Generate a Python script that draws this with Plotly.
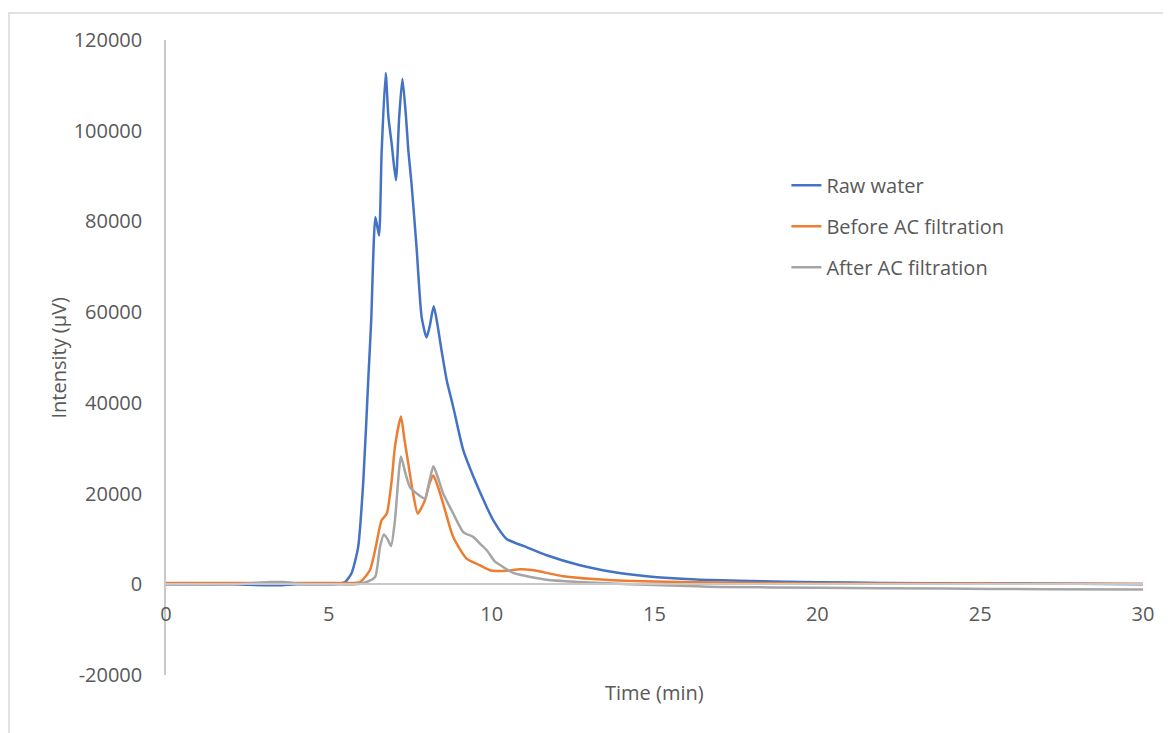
import plotly.graph_objects as go

# ---- data ----
raw_t = [0, 1, 2, 3, 3.5, 4, 5, 5.3, 5.5, 5.7, 5.9, 6.06, 6.21, 6.3, 6.43, 6.54, 6.62, 6.745,
         6.83, 6.93, 7.06, 7.16, 7.26, 7.37, 7.44, 7.54, 7.70, 7.85, 8.0, 8.1, 8.22, 8.33, 8.46,
         8.62, 8.82, 9.13, 9.44, 9.85, 10.05, 10.46, 11.07, 11.69, 12.71, 13.73, 14.76, 16.29,
         18, 20, 22, 25, 28, 30]
raw_v = [0, 0, 0, -200, -200, 0, 0, 100, 500, 2500, 8200, 22900, 45000, 58000, 81000, 76900, 95000, 112700,
         103000, 97100, 89070, 103000, 111480, 103000, 95700, 88300, 73600, 58900, 54400, 57000, 61300, 57500, 51600,
         45000, 39100, 29500, 23700, 17000, 14100, 10000, 8200, 6400, 4200, 2700, 1760, 1030,
         700, 450, 300, 200, 100, 0]

before_t = [0, 2, 4, 5, 5.6, 5.96, 6.26, 6.42, 6.62, 6.78, 6.93, 7.03, 7.215, 7.32, 7.44, 7.6, 7.73,
            7.95, 8.08, 8.21, 8.35, 8.51, 8.82, 9.23, 9.64, 9.95, 10.15, 10.46, 10.87, 11.28, 12.2,
            13.73, 16.29, 20, 25, 30]
before_v = [300, 300, 300, 300, 300, 500, 3100, 7500, 14100, 15600, 22900, 30300, 37000, 32000, 26600, 19500, 15600,
            18500, 22000, 24000, 21500, 17800, 10400, 5650, 4190, 3090, 2940, 3000, 3300, 3090, 1760,
            880, 440, 200, 150, 100]

after_t = [0, 2, 2.8, 3.2, 3.6, 4.0, 4.5, 5, 5.8, 6.16, 6.42, 6.57, 6.69, 6.8, 6.91, 7.03, 7.215,
           7.35, 7.49, 7.70, 7.95, 8.08, 8.21, 8.35, 8.51, 8.82, 9.13, 9.44, 9.64, 9.85, 10.1, 10.25,
           10.66, 11.69, 12.71, 14.25, 16.29, 17, 20, 23.8, 27, 30]
after_v = [0, 0, 300, 500, 500, 200, 0, 0, 0, 500, 1600, 8200, 11000, 10000, 8450, 14100, 28200,
           24500, 21450, 20000, 18900, 22500, 26000, 23500, 20000, 15600, 11500, 10400, 8970, 7500, 5000, 4300,
           2500, 1000, 510, 0, -440, -590, -750, -950, -1100, -1170]

series_names = ["Raw water", "Before AC filtration", "After AC filtration"]
series_colors = ["#4472C4", "#ED7D31", "#A5A5A5"]

x_ticks = [0, 5, 10, 15, 20, 25, 30]
y_ticks = [-20000, 0, 20000, 40000, 60000, 80000, 100000, 120000]
x_range = [0, 30]
y_range = [-20000, 120000]

FONT = "Open Sans"
TXT = "#595959"
FS = 20

fig = go.Figure()
for name, color, t, v in zip(series_names, series_colors,
                             [raw_t, before_t, after_t], [raw_v, before_v, after_v]):
    fig.add_trace(go.Scatter(x=t, y=v, mode="lines", name=name, legendgroup=name,
                             line=dict(color=color, width=2.5, shape="spline", smoothing=0.6)))

zero_pos = (0 - y_range[0]) / (y_range[1] - y_range[0])

fig.update_layout(
    width=1171, height=733,
    margin=dict(l=158, r=36, t=32, b=66),
    paper_bgcolor="white", plot_bgcolor="white",
    font=dict(family=FONT, size=FS, color=TXT),
    showlegend=True,
    legend=dict(x=0.635, y=0.802, xanchor="left", yanchor="top",
                traceorder="grouped", tracegroupgap=12,
                font=dict(family=FONT, size=FS, color=TXT),
                bgcolor="rgba(0,0,0,0)"),
    xaxis=dict(range=x_range, tickvals=x_ticks, ticktext=[str(v) for v in x_ticks],
               showgrid=False, zeroline=False, showline=True, linecolor="#C8C8C8", linewidth=1.5,
               anchor="free", position=zero_pos,
               ticks="outside", ticklen=12, tickcolor="rgba(0,0,0,0)",
               tickfont=dict(family=FONT, size=FS, color=TXT)),
    yaxis=dict(range=y_range, tickvals=y_ticks, ticktext=[str(v) for v in y_ticks],
               showgrid=False, zeroline=False, showline=True, linecolor="#C8C8C8", linewidth=1.5,
               ticks="outside", ticklen=18, tickcolor="rgba(0,0,0,0)",
               tickfont=dict(family=FONT, size=FS, color=TXT)),
)

# axis titles
fig.add_annotation(text="Time (min)", xref="paper", yref="paper", x=0.5, y=-0.0283,
                   xanchor="center", yanchor="middle", showarrow=False,
                   font=dict(family=FONT, size=FS, color=TXT))
fig.add_annotation(text="Intensity (µV)", xref="paper", yref="paper", x=-0.1105, y=0.5,
                   xanchor="center", yanchor="middle", textangle=-90, showarrow=False,
                   font=dict(family=FONT, size=FS, color=TXT))

# chart frame
fig.add_shape(type="rect", xref="paper", yref="paper", x0=-0.1607, x1=1.2, y0=-0.3, y1=1.0425,
              line=dict(color="#D9D9D9", width=1.5), fillcolor="rgba(0,0,0,0)", layer="below")

fig.write_html("out.html")
